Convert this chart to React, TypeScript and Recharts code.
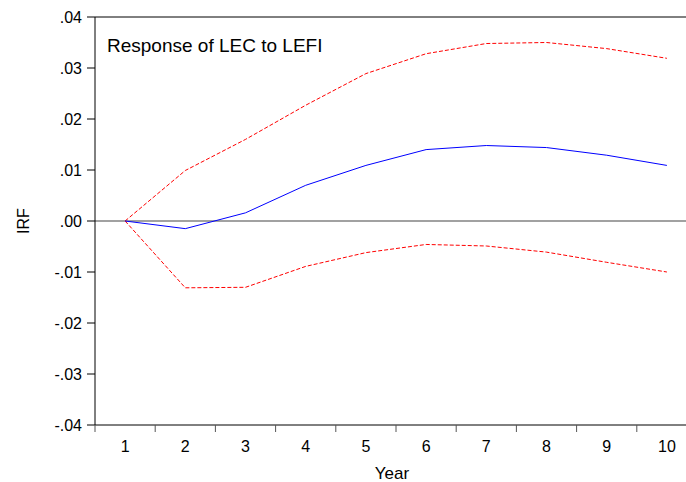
import React from 'react';
import { LineChart, Line, XAxis, YAxis, ReferenceLine } from 'recharts';

const years = [1, 2, 3, 4, 5, 6, 7, 8, 9, 10];
const irf = [0, -0.0015, 0.0016, 0.007, 0.0109, 0.014, 0.0148, 0.0144, 0.0129, 0.0109];
const upper = [0, 0.0099, 0.016, 0.0227, 0.0289, 0.0328, 0.0348, 0.035, 0.0338, 0.0319];
const lower = [0, -0.0131, -0.013, -0.0089, -0.0062, -0.0046, -0.0049, -0.0061, -0.0081, -0.01];
const yTicks = [-0.04, -0.03, -0.02, -0.01, 0, 0.01, 0.02, 0.03, 0.04];
const title = 'Response of LEC to LEFI';
const xTitle = 'Year';
const yTitle = 'IRF';

const data = years.map((y, i) => ({ year: y, irf: irf[i], upper: upper[i], lower: lower[i] }));

const W = 698;
const H = 482;
const M = { top: 17, right: 1, left: 0, bottom: 0 };
const Y_W = 95;
const X_H = 57;
const PLOT_W = W - M.left - M.right - Y_W;
const HALF = PLOT_W / years.length / 2;
const FONT = 'Arial, "Liberation Sans", sans-serif';

const fmt = (v: number) => {
  const s = Math.abs(v).toFixed(2).replace(/^0/, '');
  return v < -1e-9 ? '-' + s : s;
};

const XTick = (props: any) => {
  const { x, y, payload } = props;
  const last = payload.value === years[years.length - 1];
  return (
    <g>
      <line x1={x - HALF} x2={x - HALF} y1={y} y2={y + 7} stroke="#555" strokeWidth={1} />
      {last && <line x1={x + HALF} x2={x + HALF} y1={y} y2={y + 7} stroke="#555" strokeWidth={1} />}
      <text x={x} y={y + 27} textAnchor="middle" fontSize={16} fontFamily={FONT} fill="#000">
        {payload.value}
      </text>
    </g>
  );
};

export default function App() {
  return (
    <div style={{ position: 'absolute', left: 0, top: 0, width: 686, height: 482, overflow: 'hidden', background: '#fff' }}>
      <LineChart width={W} height={H} data={data} margin={M}>
        <XAxis
          type="number"
          dataKey="year"
          domain={[0.5, 10.5]}
          ticks={years}
          interval={0}
          tickSize={0}
          tickMargin={0}
          tickLine={false}
          tick={<XTick />}
          axisLine={{ stroke: '#000', strokeWidth: 1 }}
          height={X_H}
        />
        <YAxis
          type="number"
          domain={[-0.04, 0.04]}
          ticks={yTicks}
          interval={0}
          tickFormatter={fmt}
          width={Y_W}
          tickSize={8}
          tickMargin={5}
          tickLine={{ stroke: '#000' }}
          axisLine={{ stroke: '#000', strokeWidth: 1 }}
          tick={{ fill: '#000', fontSize: 16, fontFamily: FONT }}
        />
        <ReferenceLine y={0.04} stroke="#000" strokeWidth={1} />
        <ReferenceLine x={10.5} stroke="#000" strokeWidth={1} />
        <ReferenceLine y={0} stroke="#444" strokeWidth={1.2} />
        <Line type="linear" dataKey="upper" stroke="#ff0000" strokeWidth={1} strokeDasharray="4 2" dot={false} isAnimationActive={false} />
        <Line type="linear" dataKey="lower" stroke="#ff0000" strokeWidth={1} strokeDasharray="4 2" dot={false} isAnimationActive={false} />
        <Line type="linear" dataKey="irf" stroke="#0000ff" strokeWidth={1} dot={false} isAnimationActive={false} />
      </LineChart>
      <svg width={686} height={482} style={{ position: 'absolute', left: 0, top: 0, pointerEvents: 'none' }}>
        <text x={107} y={52} fontSize={19} fontFamily={FONT} fill="#000">{title}</text>
        <text x={392} y={479} textAnchor="middle" fontSize={17} fontFamily={FONT} fill="#000">{xTitle}</text>
        <text x={0} y={0} transform="translate(29,221) rotate(-90)" textAnchor="middle" fontSize={16} fontFamily={FONT} fill="#000">{yTitle}</text>
      </svg>
    </div>
  );
}
